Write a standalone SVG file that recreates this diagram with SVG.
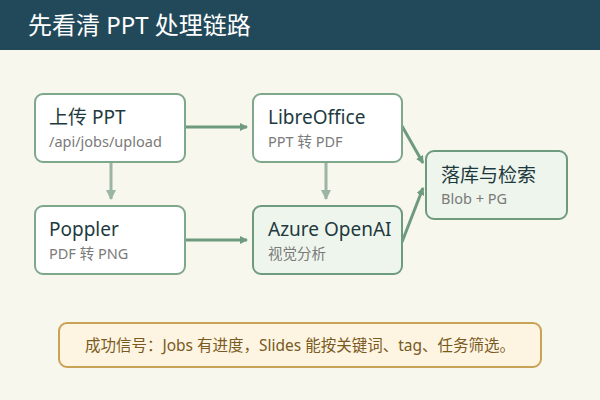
<svg xmlns="http://www.w3.org/2000/svg" width="600" height="400" viewBox="0 0 600 400">
<defs>
<marker id="ah" markerWidth="8" markerHeight="8" refX="7" refY="4" orient="auto" markerUnits="userSpaceOnUse"><path d="M0,0 L8,4 L0,8 z" fill="#6e9a7d"/></marker>
<marker id="ah2" markerWidth="10" markerHeight="10" refX="9" refY="5" orient="auto" markerUnits="userSpaceOnUse"><path d="M0,0 L10,5 L0,10 z" fill="#9ab5a3"/></marker>
<style>
.box{fill:#fff;stroke:#7fa78b;stroke-width:2}
.boxg{fill:#eef5ec;stroke:#6e9a7d;stroke-width:2}
.t{font-family:"Noto Sans","Noto Sans CJK SC",sans-serif;font-size:19px;fill:#1e3a3f}
.s{font-family:"Noto Sans","Noto Sans CJK SC",sans-serif;font-size:14.5px;fill:#7a7a7a}
.c{stroke:#6e9a7d;stroke-width:3;fill:none;marker-end:url(#ah)}
.v{stroke:#9ab5a3;stroke-width:3;fill:none;marker-end:url(#ah2)}
</style>
</defs>
<rect width="600" height="400" fill="#f8f7ee"/>
<rect width="600" height="50" fill="#21495a"/>
<text x="28" y="34" font-family="'Noto Sans','Noto Sans CJK SC',sans-serif" font-size="24" fill="#fff">先看清 PPT 处理链路</text>
<g id="connectors">
<line class="c" x1="186" y1="127" x2="247" y2="127"/>
<line class="c" x1="186" y1="240" x2="247" y2="240"/>
<line class="v" x1="111" y1="163" x2="111" y2="199"/>
<line class="v" x1="326" y1="163" x2="326" y2="199"/>
<line class="c" x1="402" y1="126" x2="423" y2="163"/>
<line class="c" x1="402" y1="242" x2="423" y2="188"/>
</g>
<g id="upload"><rect class="box" x="35" y="94" width="150" height="68" rx="8"/><text class="t" x="49" y="124">上传 PPT</text><text class="s" x="49" y="147">/api/jobs/upload</text></g>
<g id="libre"><rect class="box" x="253" y="94" width="149" height="68" rx="8"/><text class="t" x="268" y="124">LibreOffice</text><text class="s" x="268" y="147">PPT 转 PDF</text></g>
<g id="poppler"><rect class="box" x="35" y="206" width="150" height="68" rx="8"/><text class="t" x="49" y="236">Poppler</text><text class="s" x="49" y="259">PDF 转 PNG</text></g>
<g id="azure"><rect class="boxg" x="253" y="206" width="149" height="68" rx="8"/><text class="t" x="268" y="236">Azure OpenAI</text><text class="s" x="268" y="259">视觉分析</text></g>
<g id="store"><rect class="boxg" x="426" y="151" width="141" height="68" rx="8"/><text class="t" x="441" y="182">落库与检索</text><text class="s" x="441" y="204">Blob + PG</text></g>
<g id="note"><rect x="59" y="323" width="482" height="44" rx="8" fill="#fdf5e2" stroke="#c9a255" stroke-width="2"/><text x="300" y="351" text-anchor="middle" font-family="'Noto Sans','Noto Sans CJK SC',sans-serif" font-size="15.5" fill="#7a5a1e">成功信号：Jobs 有进度，Slides 能按关键词、tag、任务筛选。</text></g>
</svg>
